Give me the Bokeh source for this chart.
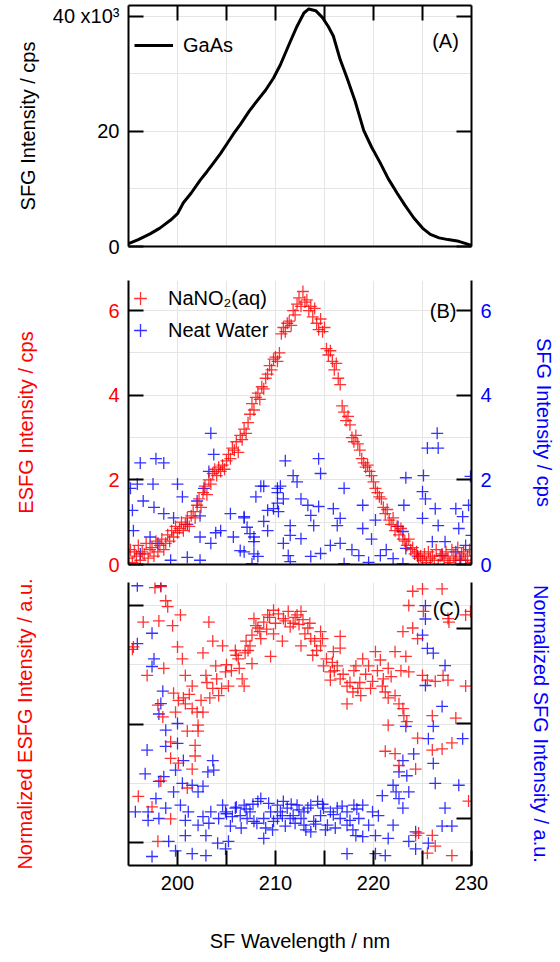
from bokeh.plotting import figure
from bokeh.models import LinearAxis, Range1d, FixedTicker, Legend, LegendItem, Label
from bokeh.layouts import column
from bokeh.embed import file_html
from bokeh.resources import INLINE

# ---------------- data ----------------
# Panel A: GaAs reference SFG spectrum (counts in 10^3 cps)
gaas_wl = [195.0, 196.0, 197.2, 198.2, 199.3, 200.0, 200.6, 201.4, 202.3, 203.0,
           203.7, 204.4, 205.1, 205.8, 206.4, 207.3, 208.2, 209.0, 209.8, 210.5,
           211.0, 211.5, 212.2, 212.9, 213.4, 214.1, 214.8, 215.4, 215.9, 216.6,
           217.3, 218.1, 219.0, 219.8, 220.7, 221.5, 222.4, 223.2, 224.1, 225.0,
           225.8, 226.7, 227.6, 228.7, 230.0]
gaas_counts = [0.5, 1.2, 2.2, 3.2, 4.6, 5.7, 7.6, 9.3, 11.5, 13.0,
               14.6, 16.2, 18.0, 19.8, 21.2, 23.5, 25.5, 27.2, 29.3, 31.6,
               33.6, 35.6, 38.3, 40.6, 41.3, 41.0, 39.8, 38.2, 36.6, 32.5,
               29.3, 25.4, 20.2, 17.3, 14.5, 11.8, 9.3, 7.2, 5.0, 3.2,
               2.1, 1.5, 1.2, 0.9, 0.2]

# Panel B: NaNO2(aq) ESFG intensity (cps)
esfg_b_wl = [195.0,
    195.2, 195.4, 195.6, 195.8, 196.0, 196.2, 196.4, 196.6, 196.8, 197.0,
    197.2, 197.4, 197.6, 197.8, 198.0, 198.2, 198.4, 198.6, 198.8, 199.0,
    199.2, 199.4, 199.6, 199.8, 200.0, 200.2, 200.4, 200.6, 200.8, 201.0,
    201.2, 201.4, 201.6, 201.8, 202.0, 202.2, 202.4, 202.6, 202.8, 203.0,
    203.2, 203.4, 203.6, 203.8, 204.0, 204.2, 204.4, 204.6, 204.8, 205.0,
    205.2, 205.4, 205.6, 205.8, 206.0, 206.2, 206.4, 206.6, 206.8, 207.0,
    207.2, 207.4, 207.6, 207.8, 208.0, 208.2, 208.4, 208.6, 208.8, 209.0,
    209.2, 209.4, 209.6, 209.8, 210.0, 210.2, 210.4, 210.6, 210.8, 211.0,
    211.2, 211.4, 211.6, 211.8, 212.0, 212.2, 212.4, 212.6, 212.8, 213.0,
    213.2, 213.4, 213.6, 213.8, 214.0, 214.2, 214.4, 214.6, 214.8, 215.0,
    215.2, 215.4, 215.6, 215.8, 216.0, 216.2, 216.4, 216.6, 216.8, 217.0,
    217.2, 217.4, 217.6, 217.8, 218.0, 218.2, 218.4, 218.6, 218.8, 219.0,
    219.2, 219.4, 219.6, 219.8, 220.0, 220.2, 220.4, 220.6, 220.8, 221.0,
    221.2, 221.4, 221.6, 221.8, 222.0, 222.2, 222.4, 222.6, 222.8, 223.0,
    223.2, 223.4, 223.6, 223.8, 224.0, 224.2, 224.4, 224.6, 224.8, 225.0,
    225.2, 225.4, 225.6, 225.8, 226.0, 226.2, 226.4, 226.6, 226.8, 227.0,
    227.2, 227.4, 227.6, 227.8, 228.0, 228.2, 228.4, 228.6, 228.8, 229.0,
    229.2, 229.4, 229.6, 229.8, 230.0]
esfg_b_val = [0.15,
    0.35, 0.05, 0.30, 0.20, 0.45, 0.10, 0.30, 0.25, 0.50, 0.15,
    0.35, 0.40, 0.20, 0.55, 0.30, 0.45, 0.60, 0.35, 0.50, 0.70,
    0.55, 0.80, 0.65, 0.90, 0.75, 0.85, 1.00, 0.80, 0.95, 1.10,
    0.90, 1.15, 1.25, 1.10, 1.40, 1.55, 1.35, 1.70, 1.85, 1.65,
    2.00, 1.90, 2.15, 2.25, 2.10, 2.30, 2.20, 2.35, 2.25, 2.45,
    2.60, 2.50, 2.75, 2.70, 2.90, 2.65, 3.05, 2.95, 3.20, 3.10,
    3.35, 3.55, 3.80, 3.65, 3.95, 4.05, 3.90, 4.20, 4.15, 4.40,
    4.50, 4.70, 4.60, 4.85, 4.90, 4.80, 5.00, 5.45, 5.60, 5.50,
    5.70, 5.75, 5.65, 6.00, 5.90, 6.15, 6.30, 6.10, 6.45, 6.20,
    6.25, 6.00, 6.10, 5.85, 6.05, 5.70, 5.55, 5.80, 5.50, 5.60,
    5.10, 4.95, 5.05, 4.80, 4.60, 4.75, 4.40, 4.25, 3.75, 3.60,
    3.40, 3.50, 3.30, 3.00, 2.90, 3.05, 2.85, 2.70, 2.50, 2.40,
    2.30, 2.35, 2.20, 2.10, 1.95, 1.80, 1.70, 1.60, 1.55, 1.35,
    1.20, 1.30, 1.05, 0.95, 1.10, 0.80, 0.90, 0.70, 0.85, 0.60,
    0.55, 0.45, 0.60, 0.35, 0.40, 0.25, 0.30, 0.15, 0.20, 0.10,
    0.25, 0.05, 0.30, 0.15, 0.20, 0.10, 0.35, 0.00, 0.20, 0.25,
    0.10, 0.30, 0.15, 0.05, 0.35, 0.20, 0.10, 0.40, 0.15, 0.25,
    0.30, 0.10, 0.20, 0.35, 0.05]

# Panel B: neat water SFG intensity (cps)
sfg_b_wl = [
    195.2, 196.2, 197.8, 198.6, 195.4, 196.5, 197.6, 198.6, 195.5, 197.2,
    195.9, 197.5, 200.0, 200.5, 199.6, 201.0, 202.3, 203.4, 203.9, 204.4,
    205.4, 205.7, 206.4, 207.1, 207.8, 206.8, 203.4, 203.7, 203.2, 202.7,
    202.0, 202.3, 201.0, 202.3, 207.8, 208.8, 209.2, 210.2, 210.2, 209.2,
    198.0, 196.2, 199.3, 211.0, 214.4, 214.6, 211.8, 212.2, 208.5, 210.5,
    208.0, 210.2, 210.8, 212.6, 217.0, 213.3, 214.4, 215.9, 206.8, 209.8,
    210.3, 213.6, 216.6, 208.8, 211.5, 213.9, 216.3, 207.4, 211.5, 212.6,
    207.8, 210.8, 215.6, 216.6, 206.8, 208.2, 211.3, 213.6, 214.6, 217.0,
    207.6, 211.5, 226.5, 225.5, 226.6, 223.3, 225.1, 229.9, 225.0, 225.3,
    223.1, 228.4, 229.7, 226.3, 229.1, 218.9, 218.9, 225.0, 226.6, 228.7,
    230.0, 223.0, 226.0, 227.3, 229.4, 223.3, 220.7, 218.5, 222.0, 223.0,
    227.0, 228.4, 219.8, 221.3, 220.2, 222.5, 217.8, 219.5, 224.5, 228.9]
sfg_b_val = [
    1.80, 2.40, 2.50, 2.40, 1.28, 1.50, 1.35, 1.20, 0.80, 0.65,
    1.90, 1.90, 1.90, 1.60, 1.10, 0.95, 0.65, 0.50, 0.75, 0.80,
    1.20, 0.65, 0.33, 0.88, 0.65, 1.10, 3.10, 2.60, 2.20, 1.80,
    1.50, 1.15, 0.17, 0.10, 0.25, 1.85, 1.28, 1.80, 1.45, 0.80,
    0.50, 0.25, 0.10, 2.45, 2.50, 2.15, 2.10, 1.95, 1.85, 1.85,
    1.60, 1.70, 1.55, 1.55, 1.80, 1.40, 1.37, 1.32, 1.13, 1.32,
    1.25, 1.16, 1.09, 1.02, 0.92, 0.92, 0.92, 0.73, 0.69, 0.61,
    0.54, 0.50, 0.45, 0.50, 0.30, 0.19, 0.21, 0.19, 0.26, 0.02,
    0.02, 0.07, 3.10, 2.75, 2.75, 2.05, 2.10, 2.08, 1.72, 1.55,
    1.40, 1.32, 1.40, 1.32, 1.13, 1.40, 0.85, 1.09, 0.92, 0.85,
    0.69, 0.78, 0.54, 0.54, 0.45, 0.38, 0.21, 0.21, 0.14, 0.02,
    0.21, 0.30, 0.60, 0.35, 1.05, 0.90, 0.35, 0.05, 0.20, 0.10]

# Panel C: normalized ESFG (NaNO2, arbitrary units)
esfg_c_wl = [
    198.3, 198.8, 199.0, 196.5, 198.1, 199.5, 200.3, 203.2, 195.4, 200.0,
    200.5, 198.6, 196.9, 200.8, 203.6, 202.6, 204.6, 202.9, 203.9, 204.9,
    205.9, 206.2, 201.5, 199.6, 200.1, 200.8, 201.5, 202.0, 202.6, 203.6,
    204.2, 205.2, 198.0, 198.5, 202.1, 202.1, 201.0, 201.8, 199.3, 201.8,
    199.3, 200.1, 201.5, 198.3, 201.0, 196.0, 197.4, 199.3, 198.0,
    197.7, 195.5, 201.2, 202.4, 203.0, 203.3, 204.0, 204.5, 199.8, 200.6,
    207.8, 209.2, 209.8, 210.8, 212.2, 212.6, 208.2, 209.8, 211.5, 213.3,
    213.6, 214.6, 210.7, 208.5, 207.4, 206.9, 207.6, 209.5, 212.6, 214.6,
    216.6, 216.6, 213.8, 214.9, 215.9, 215.6, 216.3, 216.6, 217.3, 217.9,
    217.3, 218.2, 206.6, 206.8, 215.6,
    205.0, 205.5, 206.0, 206.3, 207.0, 207.2, 207.6, 208.0, 208.4, 208.8,
    209.1, 209.4, 210.0, 210.3, 211.0, 211.3, 211.8, 212.0, 212.4, 212.8,
    213.0, 213.5, 214.0, 214.2, 214.8, 215.2, 215.8, 216.0, 216.9, 217.6,
    218.0, 218.6, 219.2, 219.7, 220.4, 221.0, 221.8, 222.8,
    224.0, 225.0, 227.0, 223.6, 225.1, 227.7, 229.4, 229.9, 223.0, 224.0,
    224.5, 220.2, 222.2, 223.3, 218.9, 219.5, 220.7, 221.5, 223.6, 225.0,
    225.5, 226.3, 227.1, 227.6, 229.4, 218.4, 219.9, 220.9, 221.2, 222.2,
    218.7, 221.5, 222.6, 223.0, 223.1, 226.0, 228.4, 221.5, 223.4, 224.5,
    226.0, 227.0, 228.0, 221.2, 222.2, 222.6, 224.3, 229.7, 224.6, 226.0,
    226.3, 228.0, 227.6, 224.3, 225.5]
esfg_c_val = [
    2.16, 2.04, 1.99, 1.86, 1.87, 1.83, 1.92, 1.86, 1.63, 1.65,
    1.55, 1.47, 1.41, 1.41, 1.70, 1.60, 1.66, 1.41, 1.49, 1.44,
    1.62, 1.55, 1.32, 1.26, 1.20, 1.17, 1.13, 1.10, 1.10, 1.30,
    1.24, 1.32, 1.16, 1.06, 0.99, 0.94, 0.94, 0.82, 0.85, 0.73,
    0.71, 0.67, 0.62, 0.52, 0.46, 0.39, 0.30, 0.20, 0.01,
    2.15, 1.65, 1.25, 1.20, 1.35, 1.22, 1.38, 1.30, 1.10, 1.22,
    1.89, 1.92, 1.96, 1.89, 1.92, 1.95, 1.81, 1.76, 1.82, 1.81,
    1.72, 1.78, 1.70, 1.72, 1.66, 1.60, 1.51, 1.57, 1.66, 1.66,
    1.74, 1.64, 1.58, 1.49, 1.61, 1.44, 1.49, 1.38, 1.32, 1.27,
    1.17, 1.49, 1.38, 1.32, 1.37,
    1.50, 1.45, 1.58, 1.47, 1.70, 1.62, 1.75, 1.83, 1.78, 1.86,
    1.80, 1.90, 1.85, 1.93, 1.87, 1.95, 1.85, 1.90, 1.84, 1.88,
    1.76, 1.85, 1.70, 1.62, 1.72, 1.55, 1.52, 1.45, 1.42, 1.35,
    1.45, 1.35, 1.42, 1.30, 1.45, 1.38, 1.40, 1.45,
    2.12, 2.14, 2.14, 2.00, 1.95, 1.86, 1.92, 1.95, 1.78, 1.81,
    1.72, 1.61, 1.61, 1.57, 1.55, 1.49, 1.54, 1.47, 1.44, 1.41,
    1.37, 1.36, 1.41, 1.37, 1.32, 1.30, 1.36, 1.32, 1.27, 1.24,
    1.24, 1.22, 1.17, 1.13, 1.07, 1.07, 1.05, 0.99, 1.02, 0.88,
    0.78, 0.79, 0.84, 0.77, 0.75, 0.65, 0.62, 0.35, 0.08, 0.06,
    -0.03, -0.11, 1.89, 0.06, -0.09]

# Panel C: normalized SFG (neat water, arbitrary units)
sfg_c_wl = [
    195.9, 198.3, 197.4, 195.9, 197.6, 197.4, 198.5, 198.3, 198.1, 200.0,
    198.8, 196.9, 198.8, 200.0, 200.6, 203.6, 203.7, 203.1, 196.7, 199.8,
    198.6, 198.1, 200.5, 199.6, 201.5, 202.6, 202.1, 197.8, 195.7, 197.0,
    198.8, 200.3, 201.1, 202.6, 203.4, 204.6, 204.9, 205.9, 197.0, 198.1,
    200.8, 202.1, 203.2, 204.2, 205.6, 206.4, 200.8, 202.9, 205.2, 199.1,
    199.8, 197.4, 201.5, 204.1, 204.9, 202.9,
    206.8, 207.4, 208.2, 208.8, 208.5, 209.5, 209.0, 208.8, 209.8, 210.2,
    210.8, 210.5, 211.2, 211.5, 212.2, 211.8, 212.9, 212.9, 213.3, 213.9,
    214.3, 214.6, 215.3, 215.6, 216.3, 216.6, 217.3, 217.3, 218.0, 218.2,
    217.3, 207.1, 207.8, 213.6, 212.6, 210.2, 214.9,
    205.0, 205.4, 206.0, 206.5, 207.0, 207.7, 208.1, 209.3, 209.7, 210.7,
    211.0, 211.6, 212.0, 212.4, 213.1, 213.6, 214.1, 214.8, 215.1, 215.9,
    216.1, 216.8, 217.6, 217.9, 218.3,
    225.3, 225.3, 225.0, 225.5, 226.1, 227.3, 225.3, 227.0, 226.1, 225.6,
    229.1, 223.3, 224.1, 223.0, 226.1, 222.6, 223.4, 226.3, 228.7, 222.0,
    222.3, 220.9, 223.6, 222.6, 227.3, 218.9, 219.9, 218.5, 220.5, 222.0,
    223.0, 219.5, 227.0, 228.0, 218.9, 220.2, 221.5, 223.6, 224.3, 220.2,
    221.2, 225.6, 224.3]
sfg_c_val = [
    2.45, 2.45, 1.95, 1.84, 1.68, 1.60, 1.34, 1.21, 1.10, 1.00,
    0.93, 0.72, 0.76, 0.79, 0.61, 0.61, 0.51, 0.49, 0.47, 0.51,
    0.44, 0.39, 0.37, 0.28, 0.35, 0.34, 0.28, 0.21, 0.07, 0.07,
    0.11, 0.14, 0.07, 0.02, 0.07, 0.14, 0.07, 0.11, -0.02, 0.00,
    -0.02, -0.07, -0.05, 0.00, 0.02, 0.03, -0.18, -0.18, -0.24, -0.24,
    -0.34, -0.40, -0.37, -0.26, -0.32, -0.39,
    0.14, 0.07, 0.18, 0.00, 0.21, 0.07, -0.10, -0.21, -0.03, 0.14,
    0.18, 0.07, 0.11, 0.00, 0.14, 0.03, 0.07, -0.07, 0.11, -0.03,
    0.18, 0.03, -0.07, 0.07, 0.11, 0.00, 0.07, -0.07, 0.14, -0.18,
    -0.37, 0.00, -0.03, -0.14, 0.00, 0.00, 0.11,
    0.05, -0.08, 0.12, -0.10, 0.10, 0.15, -0.05, 0.16, -0.12, 0.03,
    -0.08, 0.15, -0.05, 0.09, -0.12, 0.14, -0.06, 0.15, -0.12, 0.04,
    -0.10, 0.13, -0.02, -0.12, 0.10,
    2.24, 2.10, 1.93, 1.79, 1.74, 1.61, 1.40, 1.18, 0.97, 0.84,
    0.84, 0.97, 0.68, 0.61, 0.58, 0.49, 0.45, 0.37, 0.35, 0.35,
    0.28, 0.24, 0.28, 0.21, 0.11, 0.14, 0.07, 0.00, 0.03, -0.07,
    0.11, -0.07, -0.08, -0.08, -0.19, -0.18, -0.21, -0.24, -0.32, -0.37,
    -0.39, -0.26, -0.14]

x_labeled_ticks = [200, 210, 220, 230]
x_unlabeled_ticks = [205, 215, 225]
x_all_ticks = [200, 205, 210, 215, 220, 225]
a_ticks = [0, 20, 40]
b_ticks = [0, 2, 4, 6]
c_ticks = [0, 1, 2]

# ---------------- styling helpers ----------------
FONT = "Liberation Sans"
FS = "20px"
RED = "#ff0000"
BLUE = "#0000ff"
BLACK = "#000000"


def make_fig(height, y_range, top, bottom):
    p = figure(width=560, height=height, x_range=Range1d(195, 230), y_range=y_range,
               output_backend="svg", toolbar_location=None,
               x_axis_location=None, y_axis_location=None,
               min_border_left=128, min_border_right=89,
               min_border_top=top, min_border_bottom=bottom)
    p.outline_line_color = None
    p.border_fill_color = "white"
    p.background_fill_color = "white"
    return p


def make_axis(labeled, unlabeled=(), label_color=BLACK, y_range_name=None, overrides=None):
    """labeled ticks carry numbers; unlabeled ticks are drawn as identical inward ticks"""
    kw = {}
    if y_range_name:
        kw["y_range_name"] = y_range_name
    ax = LinearAxis(ticker=FixedTicker(ticks=list(labeled), minor_ticks=list(unlabeled)), **kw)
    ax.axis_line_color = BLACK
    ax.axis_line_width = 2
    for kind in ("major", "minor"):
        setattr(ax, kind + "_tick_line_color", BLACK)
        setattr(ax, kind + "_tick_line_width", 2)
        setattr(ax, kind + "_tick_in", 15)
        setattr(ax, kind + "_tick_out", 0)
    ax.major_label_text_font = FONT
    ax.major_label_text_font_size = FS
    ax.major_label_text_color = label_color
    ax.major_label_standoff = 9 if labeled else 0
    ax.axis_label_text_font = FONT
    ax.axis_label_text_font_size = FS
    ax.axis_label_text_font_style = "normal"
    ax.axis_label_text_color = BLACK
    if overrides:
        ax.major_label_overrides = overrides
    return ax


def cross(p, x, y, color, **kw):
    return p.scatter(x, y, marker="cross", size=12, line_color=color,
                     line_width=1.3, line_alpha=0.8, **kw)


def panel_label(p, x, y, text):
    p.add_layout(Label(x=x, y=y, text=text, text_font=FONT, text_font_size=FS,
                       text_color=BLACK, text_align="center", text_baseline="middle"))


def legend(items, location, gw, gh, spacing, standoff):
    return Legend(items=items, location=location, padding=0, margin=0, spacing=spacing,
                  glyph_width=gw, glyph_height=gh, label_height=gh,
                  label_standoff=standoff, label_text_font=FONT,
                  label_text_font_size=FS, label_text_color=BLACK,
                  border_line_color=None, background_fill_alpha=0)

# ---------------- panel A ----------------
pA = make_fig(262, Range1d(0, 41.9), 5, 16)
rA = pA.line(gaas_wl, gaas_counts, line_color=BLACK, line_width=3, line_join="round")
axA_l = make_axis(a_ticks, overrides={40: "40 x10\u00b3"})
axA_l.axis_label = "SFG Intensity / cps"
axA_l.axis_label_standoff = 11
pA.add_layout(axA_l, "left")
pA.add_layout(make_axis([], a_ticks), "right")
pA.add_layout(make_axis([], x_all_ticks), "above")
pA.add_layout(make_axis([]), "below")
pA.add_layout(legend([LegendItem(label="GaAs", renderers=[rA])], (6, 189), 39, 24, 0, 10))
panel_label(pA, 227.35, 35.65, "(A)")

# ---------------- panel B ----------------
pB = make_fig(316, Range1d(0, 6.71), 18, 14)
rB_blue = cross(pB, sfg_b_wl, sfg_b_val, BLUE)
rB_red = cross(pB, esfg_b_wl, esfg_b_val, RED)
axB_l = make_axis(b_ticks, label_color=RED)
axB_l.axis_label = "ESFG Intensity / cps"
axB_l.axis_label_text_color = RED
axB_l.axis_label_standoff = 68
pB.add_layout(axB_l, "left")
axB_r = make_axis(b_ticks, label_color=BLUE)
axB_r.axis_label = "SFG Intensity / cps"
axB_r.axis_label_text_color = BLUE
axB_r.axis_label_standoff = 38
pB.add_layout(axB_r, "right")
pB.add_layout(make_axis([]), "below")
pB.add_layout(legend([LegendItem(label="NaNO\u2082(aq)", renderers=[rB_red]),
                      LegendItem(label="Neat Water", renderers=[rB_blue])],
                     (-4, 218), 32, 32, -5, 12))
panel_label(pB, 227.1, 5.98, "(B)")

# ---------------- panel C ----------------
pC = make_fig(384, Range1d(-0.194, 2.194), 4, 97)
pC.extra_y_ranges = {"blue": Range1d(-0.495, 2.484)}
cross(pC, sfg_c_wl, sfg_c_val, BLUE, y_range_name="blue")
cross(pC, esfg_c_wl, esfg_c_val, RED)
axC_l = make_axis([], c_ticks)
axC_l.axis_label = "Normalized ESFG Intensity / a.u."
axC_l.axis_label_text_color = RED
axC_l.axis_label_standoff = 93
pC.add_layout(axC_l, "left")
axC_r = make_axis([], c_ticks, y_range_name="blue")
axC_r.axis_label = "Normalized SFG Intensity / a.u."
axC_r.axis_label_text_color = BLUE
axC_r.axis_label_standoff = 58
pC.add_layout(axC_r, "right")
axC_b = make_axis(x_labeled_ticks, x_unlabeled_ticks)
axC_b.major_label_standoff = 10
axC_b.axis_label = "SF Wavelength / nm"
axC_b.axis_label_standoff = 37
pC.add_layout(axC_b, "below")
panel_label(pC, 227.45, 1.97, "(C)")

layout = column(pA, pB, pC, spacing=0)
open("out.html", "w").write(file_html(layout, INLINE))
